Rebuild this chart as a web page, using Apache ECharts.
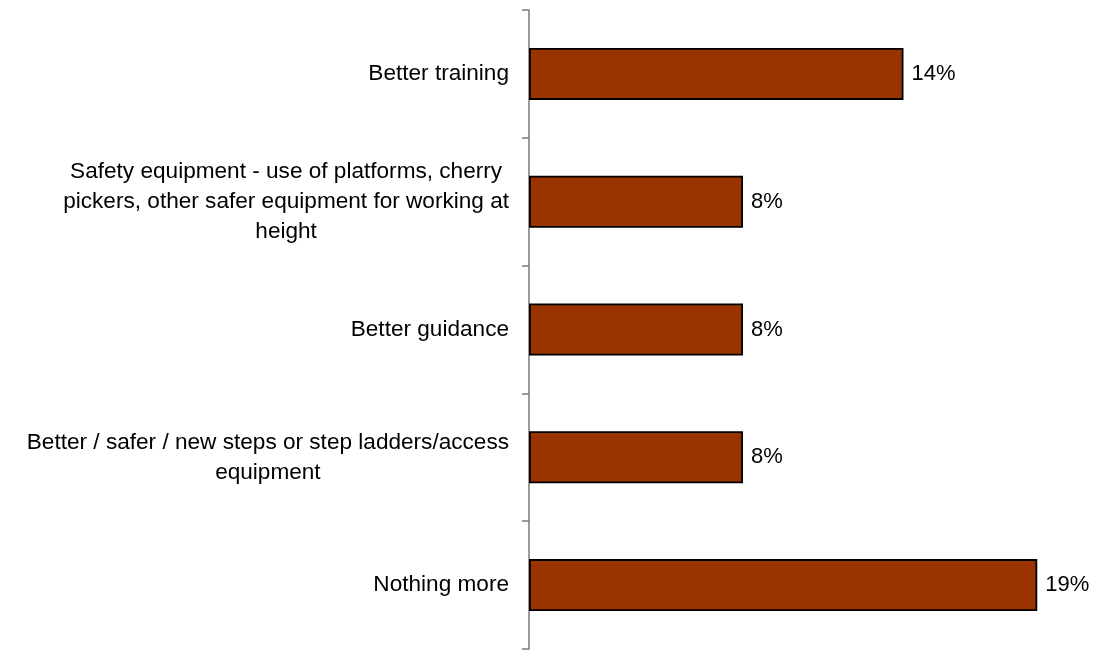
<!DOCTYPE html>
<html>
<head>
<meta charset="utf-8">
<script src="https://cdn.jsdelivr.net/npm/echarts@6/dist/echarts.min.js"></script>
<style>
html,body{margin:0;padding:0;background:#fff;}
#chart{width:1098px;height:650px;}
</style>
</head>
<body>
<div id="chart"></div>
<script>
var categories = [
  'Better training',
  'Safety equipment - use of platforms, cherry\npickers, other safer equipment for working at\nheight',
  'Better guidance',
  'Better / safer / new steps or step ladders/access\nequipment',
  'Nothing more'
];
var values = [14, 8, 8, 8, 19];

var FONT = "'Liberation Sans', Arial, sans-serif";
var chart = echarts.init(document.getElementById('chart'));
chart.setOption({
  backgroundColor: '#ffffff',
  animation: false,
  grid: { left: 529, right: 34, top: 10, bottom: 1, containLabel: false },
  xAxis: {
    type: 'value', min: 0, max: 20, show: false,
    splitLine: { show: false }
  },
  yAxis: {
    type: 'category',
    inverse: true,
    data: categories,
    axisLine: { show: true, lineStyle: { color: '#7a7a7a', width: 1.5 } },
    axisTick: { show: true, length: 7, lineStyle: { color: '#7a7a7a', width: 1.5 } },
    axisLabel: {
      margin: 20,
      color: '#000',
      fontFamily: FONT,
      fontSize: 23,
      lineHeight: 30,
      formatter: function (v) {
        return v.split('\n').map(function (s) { return '{c|' + s + '}'; }).join('\n');
      },
      rich: {
        c: { align: 'center', fontFamily: FONT, fontSize: 22.6, lineHeight: 30, color: '#000' }
      }
    }
  },
  series: [{
    type: 'bar',
    data: values,
    barWidth: 52,
    itemStyle: { color: '#993300', borderColor: '#000', borderWidth: 1.8 },
    label: {
      show: true, position: 'right', distance: 8,
      formatter: '{c}%',
      color: '#000', fontFamily: FONT, fontSize: 22
    }
  }]
});
</script>
</body>
</html>
